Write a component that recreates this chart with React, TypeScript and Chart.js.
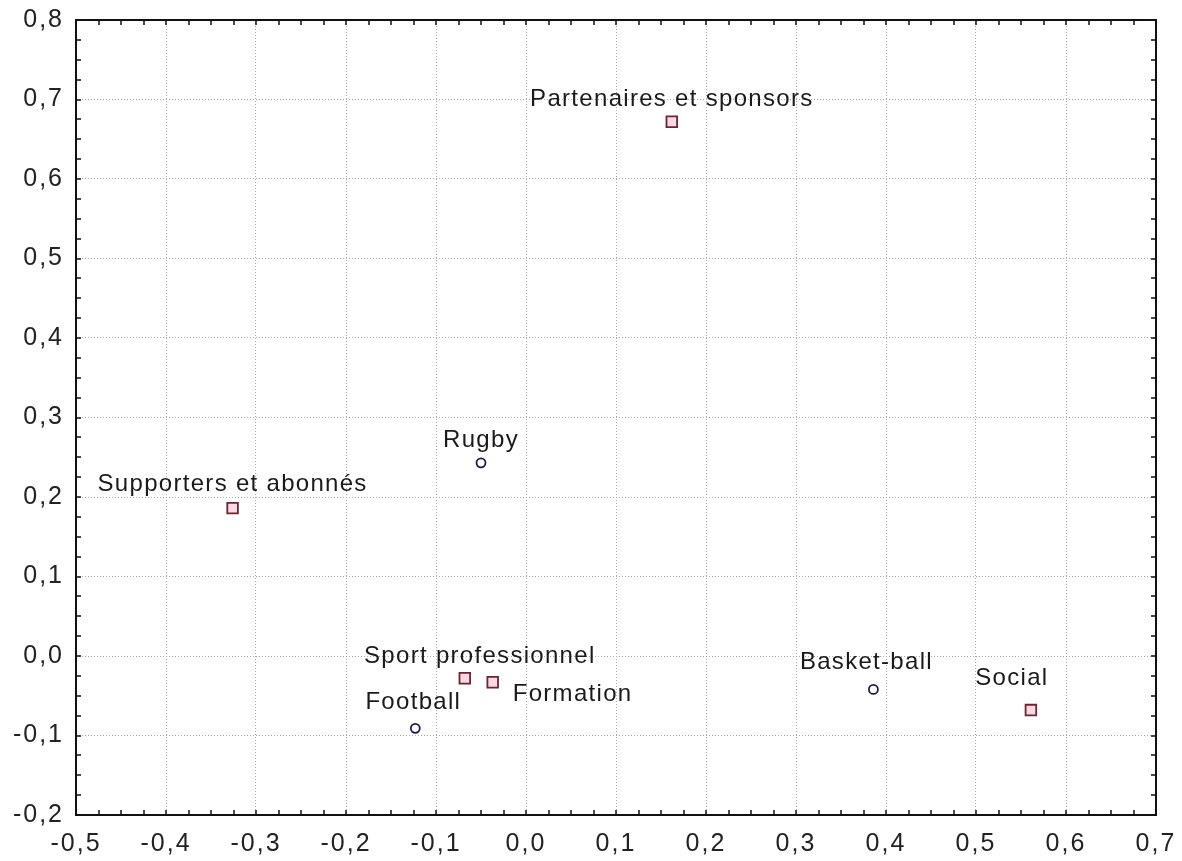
import React, { useEffect, useRef } from 'react';
import { Chart, registerables } from 'chart.js';

Chart.register(...registerables);

// Variables (squares)
const variableNames = ['Partenaires et sponsors', 'Supporters et abonnés', 'Sport professionnel', 'Formation', 'Social'];
const variableX = [0.162, -0.326, -0.068, -0.037, 0.561];
const variableY = [0.672, 0.186, -0.028, -0.033, -0.068];

// Sports (circles)
const sportNames = ['Rugby', 'Football', 'Basket-ball'];
const sportX = [-0.05, -0.123, 0.386];
const sportY = [0.243, -0.091, -0.042];

// Axis ranges / ticks
const xMin = -0.5;
const xMax = 0.7;
const yMin = -0.2;
const yMax = 0.8;
const majorStep = 0.1;
const minorStep = 0.025;

// Label placement relative to the marker (dx, dy in px, alignment)
const variableLabelPlacement: [number, number, CanvasTextAlign][] = [
  [0, -22, 'center'],
  [0, -24, 'center'],
  [15, -22, 'center'],
  [20, 12, 'left'],
  [-19, -32, 'center'],
];
const sportLabelPlacement: [number, number, CanvasTextAlign][] = [
  [0, -22, 'center'],
  [-2, -26, 'center'],
  [-7, -27, 'center'],
];

const FONT = '"Liberation Sans", Arial, Helvetica, sans-serif';

const fmt = (v: number) => {
  const r = Math.round(v * 10) / 10;
  return (Math.abs(r) < 1e-9 ? 0 : r).toFixed(1).replace('.', ',');
};

const framePlugin = {
  id: 'frameTicks',
  beforeDraw(chart: any) {
    chart.ctx.letterSpacing = '2px';
  },
  beforeDatasetsDraw(chart: any) {
    const { ctx, chartArea, scales } = chart;
    const { left, right, top, bottom } = chartArea;
    ctx.save();
    ctx.letterSpacing = '0px';
    ctx.strokeStyle = '#111';
    ctx.lineWidth = 2;
    ctx.strokeRect(left, top, right - left, bottom - top);
    ctx.lineWidth = 1.5;
    const len = 5;
    ctx.beginPath();
    const nx = Math.round((xMax - xMin) / minorStep);
    for (let i = 0; i <= nx; i++) {
      const px = Math.round(scales.x.getPixelForValue(xMin + i * minorStep));
      ctx.moveTo(px, bottom);
      ctx.lineTo(px, bottom - len);
      ctx.moveTo(px, top);
      ctx.lineTo(px, top + len);
    }
    const ny = Math.round((yMax - yMin) / minorStep);
    for (let i = 0; i <= ny; i++) {
      const py = Math.round(scales.y.getPixelForValue(yMin + i * minorStep));
      ctx.moveTo(left, py);
      ctx.lineTo(left + len, py);
      ctx.moveTo(right, py);
      ctx.lineTo(right - len, py);
    }
    ctx.stroke();
    ctx.restore();
  },
  afterDatasetsDraw(chart: any) {
    const { ctx } = chart;
    ctx.save();
    ctx.font = `24px ${FONT}`;
    ctx.letterSpacing = '1.3px';
    ctx.fillStyle = '#1a1a1a';
    ctx.textBaseline = 'middle';
    const groups: [string[], [number, number, CanvasTextAlign][]][] = [
      [variableNames, variableLabelPlacement],
      [sportNames, sportLabelPlacement],
    ];
    groups.forEach(([names, placement], di) => {
      const meta = chart.getDatasetMeta(di);
      meta.data.forEach((el: any, i: number) => {
        const [dx, dy, align] = placement[i];
        ctx.textAlign = align;
        ctx.fillText(names[i], el.x + dx, el.y + dy);
      });
    });
    ctx.restore();
  },
};

const zeroPad = (scale: any) => {
  scale.paddingTop = 0;
  scale.paddingBottom = 0;
  scale.paddingLeft = 0;
  scale.paddingRight = 0;
};

export default function App() {
  const canvasRef = useRef<HTMLCanvasElement | null>(null);

  useEffect(() => {
    if (!canvasRef.current) return;
    const chart = new Chart(canvasRef.current, {
      type: 'scatter',
      data: {
        datasets: [
          {
            label: 'Variables',
            data: variableX.map((x, i) => ({ x, y: variableY[i] })),
            pointStyle: 'rect',
            pointRadius: 7.5,
            pointBorderWidth: 1.8,
            pointBorderColor: '#6e2434',
            pointBackgroundColor: '#f7d9e0',
          },
          {
            label: 'Sports',
            data: sportX.map((x, i) => ({ x, y: sportY[i] })),
            pointStyle: 'circle',
            pointRadius: 4.5,
            pointBorderWidth: 1.8,
            pointBorderColor: '#1c1c55',
            pointBackgroundColor: '#ffffff',
          },
        ],
      },
      options: {
        animation: false,
        responsive: true,
        maintainAspectRatio: false,
        layout: { padding: { top: 20, right: 26, left: 0, bottom: 0 } },
        plugins: {
          legend: { display: false },
          tooltip: { enabled: false },
        },
        scales: {
          x: {
            type: 'linear',
            min: xMin,
            max: xMax,
            afterFit(scale: any) {
              scale.height = 46;
              zeroPad(scale);
            },
            ticks: {
              stepSize: majorStep,
              callback: (v: any) => fmt(Number(v)),
              color: '#222',
              padding: 14,
              font: { family: FONT, size: 25 },
              maxRotation: 0,
              autoSkip: false,
            },
            grid: {
              color: '#a8a8a8',
              lineWidth: 1,
              drawTicks: false,
            },
            border: { display: false, dash: [1, 2] },
          },
          y: {
            type: 'linear',
            min: yMin,
            max: yMax,
            afterFit(scale: any) {
              scale.width = 76;
              zeroPad(scale);
            },
            ticks: {
              stepSize: majorStep,
              callback: (v: any) => fmt(Number(v)),
              color: '#222',
              padding: 12,
              font: { family: FONT, size: 25 },
              autoSkip: false,
            },
            grid: {
              color: '#a8a8a8',
              lineWidth: 1,
              drawTicks: false,
            },
            border: { display: false, dash: [1, 2] },
          },
        },
      },
      plugins: [framePlugin],
    });
    return () => chart.destroy();
  }, []);

  return (
    <div style={{ position: 'absolute', left: 0, top: 0, width: 1182, height: 861, background: '#fff' }}>
      <canvas ref={canvasRef} />
    </div>
  );
}
